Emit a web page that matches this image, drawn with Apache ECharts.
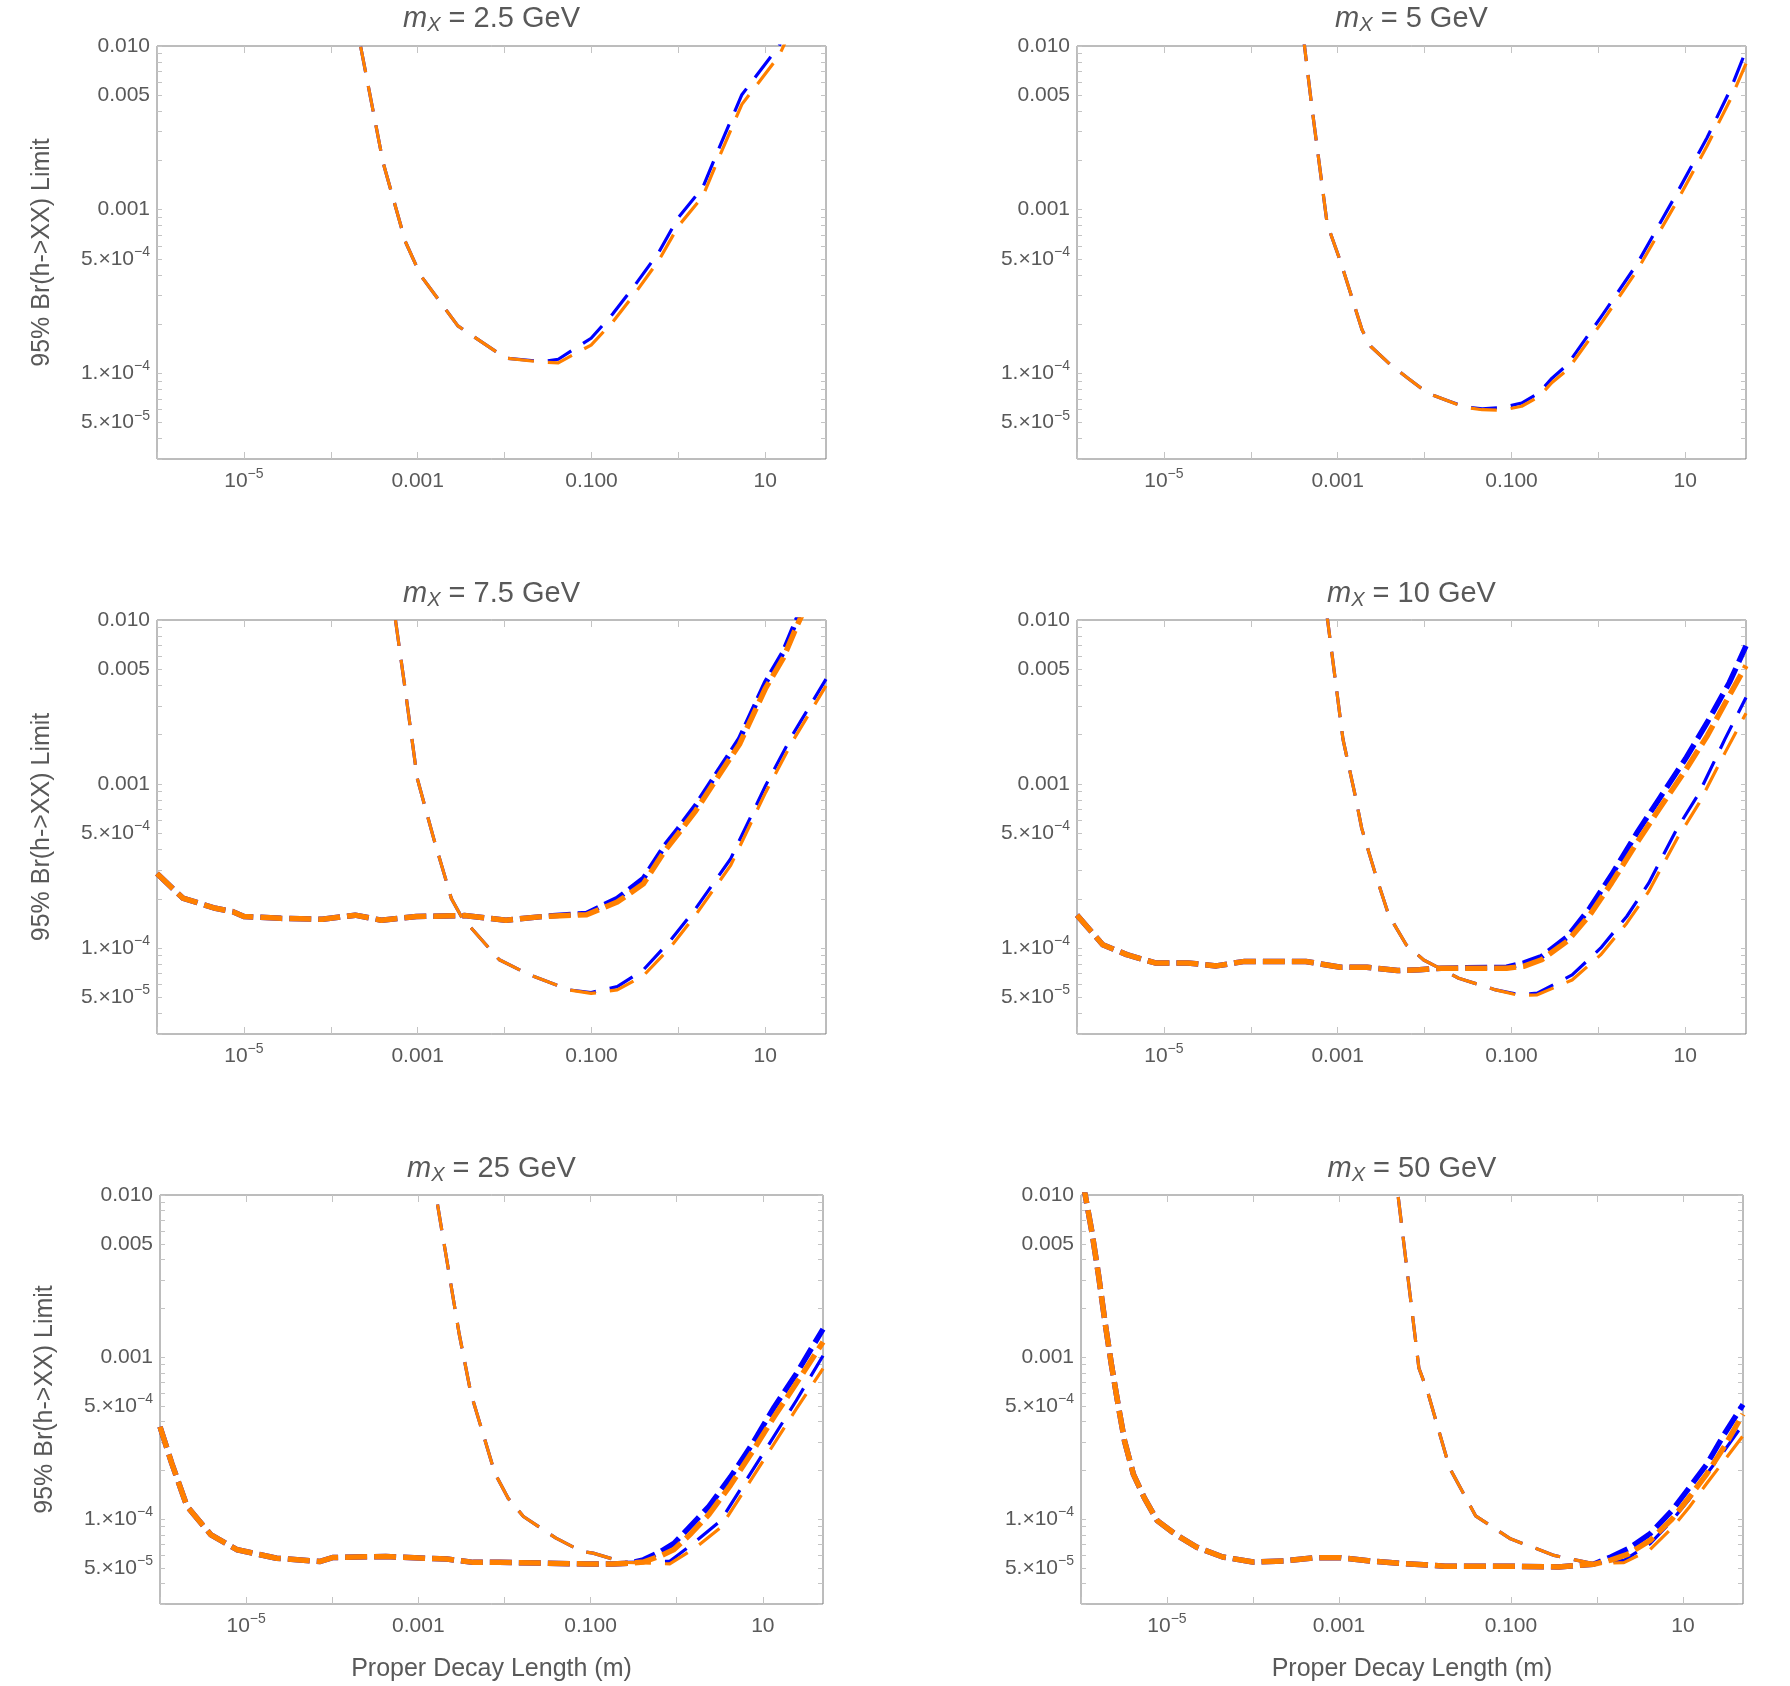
<!DOCTYPE html>
<html><head><meta charset="utf-8">
<script src="https://cdn.jsdelivr.net/npm/echarts@6/dist/echarts.min.js"></script>
<style>html,body{margin:0;padding:0;background:#fff}#c{width:1790px;height:1686px}</style>
</head><body><div id="c"></div>
<script>
// ---------- tick labels ----------
const xTickVals = [1e-5, 1e-3, 0.1, 10];
const xTickLabels = ['10^\u22125', '0.001', '0.100', '10'];
const yTickVals = [0.01, 0.005, 0.001, 5e-4, 1e-4, 5e-5];
const yTickLabels = ['0.010', '0.005', '0.001', '5.\u00d710^\u22124', '1.\u00d710^\u22124', '5.\u00d710^\u22125'];
const massLabels = ['2.5', '5', '7.5', '10', '25', '50'];

// ---------- panel 1 : mX = 2.5 GeV ----------
const p1ThinX      = [1.8e-4, 2.2e-4, 3.0e-4, 4.0e-4, 7.2e-4, 1.08e-3, 2.9e-3, 0.0103, 0.0277, 0.0415, 0.099, 0.177, 0.315, 0.595, 1.0, 1.9, 2.84, 5.38, 14.4, 20];
const p1ThinBlue   = [0.0172, 0.0100, 4.27e-3, 1.94e-3, 6.4e-4, 3.97e-4, 1.95e-4, 1.24e-4, 1.18e-4, 1.22e-4, 1.64e-4, 2.32e-4, 3.45e-4, 5.5e-4, 8.97e-4, 1.36e-3, 2.28e-3, 5.04e-3, 0.0100, 0.0145];
const p1ThinOrange = [0.0172, 0.0100, 4.27e-3, 1.94e-3, 6.4e-4, 3.97e-4, 1.95e-4, 1.24e-4, 1.17e-4, 1.16e-4, 1.49e-4, 2.07e-4, 3.07e-4, 4.9e-4, 7.95e-4, 1.2e-3, 2.0e-3, 4.4e-3, 8.7e-3, 0.0127];

// ---------- panel 2 : mX = 5 GeV ----------
const p2ThinX      = [3.5e-4, 4.15e-4, 5.06e-4, 7.57e-4, 1.1e-3, 1.91e-3, 2.41e-3, 4.05e-3, 6.44e-3, 0.0108, 0.0172, 0.029, 0.046, 0.0775, 0.131, 0.207, 0.293, 0.44, 1.11, 2.8, 7.93, 17.8, 33.7, 50];
const p2ThinBlue   = [0.0203, 0.0100, 4.18e-3, 8.18e-4, 4.67e-4, 1.84e-4, 1.46e-4, 1.13e-4, 9.35e-5, 7.58e-5, 6.9e-5, 6.24e-5, 6.07e-5, 6.18e-5, 6.59e-5, 7.6e-5, 9.35e-5, 1.13e-4, 2.27e-4, 4.68e-4, 1.25e-3, 2.75e-3, 5.53e-3, 9.4e-3];
const p2ThinOrange = [0.0203, 0.0100, 4.18e-3, 8.18e-4, 4.67e-4, 1.84e-4, 1.46e-4, 1.13e-4, 9.35e-5, 7.58e-5, 6.9e-5, 6.2e-5, 6.0e-5, 5.96e-5, 6.3e-5, 7.2e-5, 8.8e-5, 1.05e-4, 2.07e-4, 4.27e-4, 1.11e-3, 2.45e-3, 4.81e-3, 7.8e-3];

// ---------- panel 3 : mX = 7.5 GeV ----------
const p3ThinX      = [4.8e-4, 5.55e-4, 7.0e-4, 9.9e-4, 1.53e-3, 2.44e-3, 3.2e-3, 8.7e-3, 0.0196, 0.0554, 0.099, 0.198, 0.396, 0.794, 1.59, 4.0, 10.1, 20.3, 50];
const p3ThinBlue   = [0.0174, 0.0100, 4.16e-3, 1.08e-3, 4.65e-4, 2.01e-4, 1.55e-4, 8.5e-5, 6.87e-5, 5.57e-5, 5.37e-5, 5.83e-5, 7.38e-5, 1.10e-4, 1.75e-4, 3.51e-4, 9.8e-4, 1.97e-3, 4.36e-3];
const p3ThinOrange = [0.0174, 0.0100, 4.16e-3, 1.08e-3, 4.65e-4, 2.01e-4, 1.55e-4, 8.5e-5, 6.87e-5, 5.57e-5, 5.30e-5, 5.57e-5, 6.8e-5, 1.0e-4, 1.6e-4, 3.2e-4, 8.9e-4, 1.8e-3, 3.97e-3];
const p3ThickX      = [1e-6, 1.98e-6, 4.71e-6, 7.48e-6, 1e-5, 2.67e-5, 8.0e-5, 1.91e-4, 3.83e-4, 9.66e-4, 3.45e-3, 0.01035, 0.0277, 0.088, 0.198, 0.396, 0.706, 1.0, 1.59, 2.83, 5.05, 10.1, 16.1, 22.7, 30];
const p3ThickBlue   = [2.85e-4, 2.02e-4, 1.75e-4, 1.67e-4, 1.56e-4, 1.52e-4, 1.50e-4, 1.59e-4, 1.48e-4, 1.56e-4, 1.58e-4, 1.48e-4, 1.56e-4, 1.63e-4, 2.01e-4, 2.66e-4, 4.24e-4, 5.35e-4, 7.41e-4, 1.18e-3, 1.88e-3, 4.16e-3, 6.34e-3, 9.86e-3, 0.0135];
const p3ThickOrange = [2.85e-4, 2.02e-4, 1.75e-4, 1.67e-4, 1.56e-4, 1.52e-4, 1.50e-4, 1.59e-4, 1.48e-4, 1.56e-4, 1.58e-4, 1.48e-4, 1.56e-4, 1.60e-4, 1.91e-4, 2.47e-4, 3.95e-4, 5.0e-4, 6.9e-4, 1.1e-3, 1.75e-3, 3.85e-3, 5.85e-3, 9.0e-3, 0.0124];

// ---------- panel 4 : mX = 10 GeV ----------
const p4ThinX      = [6.5e-4, 7.65e-4, 1.15e-3, 1.62e-3, 1.89e-3, 2.74e-3, 3.87e-3, 6.15e-3, 9.77e-3, 0.0247, 0.0659, 0.124, 0.198, 0.499, 1.06, 2.12, 3.78, 8.04, 14.3, 28.6, 50];
const p4ThinBlue   = [0.0195, 0.0100, 1.88e-3, 8.13e-4, 5.37e-4, 2.79e-4, 1.59e-4, 1.05e-4, 8.47e-5, 6.56e-5, 5.57e-5, 5.22e-5, 5.32e-5, 6.87e-5, 1.0e-4, 1.56e-4, 2.48e-4, 5.35e-4, 8.73e-4, 1.88e-3, 3.37e-3];
const p4ThinOrange = [0.0195, 0.0100, 1.88e-3, 8.13e-4, 5.37e-4, 2.79e-4, 1.59e-4, 1.05e-4, 8.47e-5, 6.56e-5, 5.57e-5, 5.15e-5, 5.2e-5, 6.4e-5, 9.1e-5, 1.42e-4, 2.21e-4, 4.65e-4, 7.6e-4, 1.55e-3, 2.7e-3];
const p4ThickX      = [1e-6, 1.98e-6, 3.74e-6, 7.94e-6, 1.89e-5, 4.01e-5, 8.5e-5, 4.3e-4, 1.08e-3, 2.17e-3, 4.88e-3, 8.7e-3, 0.0155, 0.088, 0.14, 0.222, 0.445, 0.794, 1.42, 2.83, 5.05, 10.1, 18.0, 32.2, 50];
const p4ThickBlue   = [1.59e-4, 1.05e-4, 9.14e-5, 8.13e-5, 8.13e-5, 7.8e-5, 8.31e-5, 8.3e-5, 7.66e-5, 7.66e-5, 7.31e-5, 7.4e-5, 7.55e-5, 7.66e-5, 8.13e-5, 8.9e-5, 1.18e-4, 1.75e-4, 2.8e-4, 5.13e-4, 8.18e-4, 1.43e-3, 2.39e-3, 4.16e-3, 6.95e-3];
const p4ThickOrange = [1.59e-4, 1.05e-4, 9.14e-5, 8.13e-5, 8.13e-5, 7.8e-5, 8.31e-5, 8.3e-5, 7.66e-5, 7.66e-5, 7.31e-5, 7.4e-5, 7.55e-5, 7.55e-5, 7.77e-5, 8.5e-5, 1.11e-4, 1.59e-4, 2.5e-4, 4.46e-4, 7.1e-4, 1.22e-3, 1.98e-3, 3.47e-3, 5.27e-3];

// ---------- panel 5 : mX = 25 GeV ----------
const p5ThinX      = [1.4e-3, 1.6e-3, 2.98e-3, 4.08e-3, 7.75e-3, 0.011, 0.0166, 0.0397, 0.080, 0.107, 0.181, 0.258, 0.83, 1.61, 3.24, 10.4, 24.5, 50];
const p5ThinBlue   = [0.0153, 0.0100, 1.39e-3, 5.96e-4, 1.92e-4, 1.35e-4, 1.04e-4, 7.64e-5, 6.32e-5, 6.18e-5, 5.68e-5, 5.42e-5, 5.5e-5, 7.2e-5, 9.8e-5, 2.61e-4, 5.4e-4, 1.02e-3];
const p5ThinOrange = [0.0153, 0.0100, 1.39e-3, 5.96e-4, 1.92e-4, 1.35e-4, 1.04e-4, 7.64e-5, 6.32e-5, 6.18e-5, 5.68e-5, 5.42e-5, 5.3e-5, 6.6e-5, 8.9e-5, 2.35e-4, 4.8e-4, 8.5e-4];
const p5ThickX      = [1e-6, 1.37e-6, 2.06e-6, 3.92e-6, 7.9e-6, 2.26e-5, 7.26e-5, 1.03e-4, 4.18e-4, 2.15e-3, 4.33e-3, 8.7e-3, 0.028, 0.090, 0.181, 0.289, 0.411, 0.655, 0.93, 1.48, 2.37, 4.24, 7.6, 13.6, 24.5, 50];
const p5ThickBlue   = [3.72e-4, 2.21e-4, 1.2e-4, 8.0e-5, 6.48e-5, 5.75e-5, 5.49e-5, 5.81e-5, 5.89e-5, 5.68e-5, 5.42e-5, 5.42e-5, 5.37e-5, 5.29e-5, 5.3e-5, 5.37e-5, 5.62e-5, 6.32e-5, 7.1e-5, 9.2e-5, 1.2e-4, 1.83e-4, 2.93e-4, 4.93e-4, 7.9e-4, 1.49e-3];
const p5ThickOrange = [3.72e-4, 2.21e-4, 1.2e-4, 8.0e-5, 6.48e-5, 5.75e-5, 5.49e-5, 5.81e-5, 5.89e-5, 5.68e-5, 5.42e-5, 5.42e-5, 5.37e-5, 5.29e-5, 5.3e-5, 5.37e-5, 5.45e-5, 5.95e-5, 6.5e-5, 8.2e-5, 1.07e-4, 1.63e-4, 2.62e-4, 4.3e-4, 6.9e-4, 1.24e-3];

// ---------- panel 6 : mX = 50 GeV ----------
const p6ThinX      = [4.3e-3, 4.86e-3, 8.5e-3, 0.0107, 0.0193, 0.0388, 0.0988, 0.318, 0.908, 2.06, 4.15, 7.44, 11.9, 18.9, 30.2, 50];
const p6ThinBlue   = [0.0171, 0.0100, 8.57e-4, 6.15e-4, 2.08e-4, 1.05e-4, 7.57e-5, 5.98e-5, 5.32e-5, 5.57e-5, 7.06e-5, 9.8e-5, 1.33e-4, 1.9e-4, 2.64e-4, 3.85e-4];
const p6ThinOrange = [0.0171, 0.0100, 8.57e-4, 6.15e-4, 2.08e-4, 1.05e-4, 7.57e-5, 5.98e-5, 5.32e-5, 5.4e-5, 6.5e-5, 8.8e-5, 1.19e-4, 1.66e-4, 2.3e-4, 3.27e-4];
const p6ThickX      = [1.05e-6, 1.12e-6, 1.34e-6, 1.6e-6, 1.9e-6, 2.26e-6, 2.7e-6, 3.21e-6, 4.06e-6, 5.43e-6, 7.7e-6, 1.23e-5, 2.21e-5, 4.45e-5, 1.0e-4, 2.28e-4, 5.16e-4, 1.04e-3, 2.35e-3, 6.0e-3, 0.0171, 0.088, 0.357, 0.908, 1.45, 2.31, 4.15, 7.44, 11.9, 18.9, 30.2, 50];
const p6ThickBlue   = [0.0121, 0.0100, 5.9e-3, 3.2e-3, 1.65e-3, 8.97e-4, 5.1e-4, 3.04e-4, 1.9e-4, 1.36e-4, 9.8e-5, 8.13e-5, 6.73e-5, 5.85e-5, 5.45e-5, 5.52e-5, 5.79e-5, 5.79e-5, 5.52e-5, 5.32e-5, 5.13e-5, 5.13e-5, 5.08e-5, 5.27e-5, 5.85e-5, 6.58e-5, 8.13e-5, 1.13e-4, 1.57e-4, 2.18e-4, 3.34e-4, 5.1e-4];
const p6ThickOrange = [0.0121, 0.0100, 5.9e-3, 3.2e-3, 1.65e-3, 8.97e-4, 5.1e-4, 3.04e-4, 1.9e-4, 1.36e-4, 9.8e-5, 8.13e-5, 6.73e-5, 5.85e-5, 5.45e-5, 5.52e-5, 5.79e-5, 5.79e-5, 5.52e-5, 5.32e-5, 5.13e-5, 5.13e-5, 5.08e-5, 5.27e-5, 5.6e-5, 6.1e-5, 7.4e-5, 1.0e-4, 1.37e-4, 1.9e-4, 2.8e-4, 4.45e-4];

// ---------- assemble ----------
const panels = [
  {mass: massLabels[0], curves: [[p1ThinX, p1ThinBlue, p1ThinOrange, false]]},
  {mass: massLabels[1], curves: [[p2ThinX, p2ThinBlue, p2ThinOrange, false]]},
  {mass: massLabels[2], curves: [[p3ThinX, p3ThinBlue, p3ThinOrange, false], [p3ThickX, p3ThickBlue, p3ThickOrange, true]]},
  {mass: massLabels[3], curves: [[p4ThinX, p4ThinBlue, p4ThinOrange, false], [p4ThickX, p4ThickBlue, p4ThickOrange, true]]},
  {mass: massLabels[4], curves: [[p5ThinX, p5ThinBlue, p5ThinOrange, false], [p5ThickX, p5ThickBlue, p5ThickOrange, true]]},
  {mass: massLabels[5], curves: [[p6ThinX, p6ThinBlue, p6ThinOrange, false], [p6ThickX, p6ThickBlue, p6ThickOrange, true]]}
];

const layout = [
  {left: 157, top: 46, width: 669, height: 413, titleTop: 3},
  {left: 1077, top: 46, width: 669, height: 413, titleTop: 3},
  {left: 157, top: 620, width: 669, height: 414, titleTop: 578},
  {left: 1077, top: 620, width: 669, height: 414, titleTop: 578},
  {left: 160, top: 1195, width: 663, height: 409, titleTop: 1153},
  {left: 1081, top: 1195, width: 662, height: 409, titleTop: 1153}
];

const FONT = '"Liberation Sans", Arial, Helvetica, sans-serif';
const TXT = '#595959';
const BLUE = '#0000ff';
const ORANGE = '#ff8000';
const XMIN = 1e-6, XMAX = 50, YMIN = 3e-5, YMAX = 0.01;

const xTickAll = [];
for (let e = -6; e <= 1; e++) xTickAll.push(Math.pow(10, e));
const yTickAll = [];
for (let e = -5; e <= -2; e++) for (let k = 1; k <= 9; k++) {
  const v = k * Math.pow(10, e);
  if (v >= YMIN * 0.999 && v <= YMAX * 1.001) yTickAll.push(v);
}

function toRich(s) {
  const p = s.split('^');
  return p.length > 1 ? '{b|' + p[0] + '}{s|' + p[1] + '}' : '{b|' + s + '}';
}
function makeFmt(vals, labels) {
  return function (v) {
    const k = vals.findIndex(t => Math.abs(Math.log10(t) - Math.log10(v)) < 1e-6);
    return k < 0 ? '' : toRich(labels[k]);
  };
}
const tickRich = {
  b: {fontSize: 21, lineHeight: 28, color: TXT, fontFamily: FONT},
  s: {fontSize: 14, lineHeight: 14, verticalAlign: 'top', color: TXT, fontFamily: FONT}
};
const tickLine = {color: '#c4c4c4', width: 1};

const grid = [], xAxis = [], yAxis = [], series = [], title = [];
panels.forEach((p, i) => {
  const L = layout[i];
  grid.push({left: L.left, top: L.top, width: L.width, height: L.height, show: true,
    borderColor: '#7a7a7a', borderWidth: 1, backgroundColor: 'transparent', containLabel: false});
  const bottomRow = i >= 4, leftCol = i % 2 === 0;
  xAxis.push({type: 'log', logBase: 10, gridIndex: i, min: XMIN, max: XMAX, position: 'bottom',
    axisLine: {show: false}, splitLine: {show: false},
    axisTick: {show: true, inside: true, length: 7, lineStyle: tickLine, customValues: xTickAll},
    axisLabel: {show: true, customValues: xTickVals, margin: 8, formatter: makeFmt(xTickVals, xTickLabels), rich: tickRich},
    name: bottomRow ? 'Proper Decay Length (m)' : '', nameLocation: 'middle', nameGap: 53,
    nameTextStyle: {fontSize: 25, color: TXT, fontFamily: FONT}
  });
  xAxis.push({type: 'log', logBase: 10, gridIndex: i, min: XMIN, max: XMAX, position: 'top',
    axisLine: {show: false}, splitLine: {show: false},
    axisTick: {show: true, inside: true, length: 7, lineStyle: tickLine, customValues: xTickAll},
    axisLabel: {show: false}
  });
  yAxis.push({type: 'log', logBase: 10, gridIndex: i, min: YMIN, max: YMAX, position: 'left',
    axisLine: {show: false}, splitLine: {show: false},
    axisTick: {show: true, inside: true, length: 5, lineStyle: tickLine, customValues: yTickAll},
    axisLabel: {show: true, customValues: yTickVals, margin: 7, formatter: makeFmt(yTickVals, yTickLabels), rich: tickRich},
    name: leftCol ? '95% Br(h->XX) Limit' : '', nameLocation: 'middle', nameGap: 102, nameRotate: 90,
    nameTextStyle: {fontSize: 25, color: TXT, fontFamily: FONT}
  });
  yAxis.push({type: 'log', logBase: 10, gridIndex: i, min: YMIN, max: YMAX, position: 'right',
    axisLine: {show: false}, splitLine: {show: false},
    axisTick: {show: true, inside: true, length: 5, lineStyle: tickLine, customValues: yTickAll},
    axisLabel: {show: false}
  });
  title.push({
    text: '{m|m}{x|X}{n| = ' + p.mass + ' GeV}',
    left: L.left + L.width / 2, top: L.titleTop, textAlign: 'center', padding: 0,
    textStyle: {fontWeight: 'normal', fontFamily: FONT, color: TXT, rich: {
      m: {fontSize: 29, fontStyle: 'italic', fontWeight: 'normal', color: TXT, fontFamily: FONT, lineHeight: 32},
      x: {fontSize: 20, fontStyle: 'italic', fontWeight: 'normal', color: TXT, fontFamily: FONT, lineHeight: 12, verticalAlign: 'bottom'},
      n: {fontSize: 29, fontWeight: 'normal', color: TXT, fontFamily: FONT, lineHeight: 32}
    }}
  });
  const mk = (xs, ys, color, thick) => ({
    type: 'line', xAxisIndex: 2 * i, yAxisIndex: 2 * i, clip: true, silent: true,
    symbol: 'none', showSymbol: false, animation: false,
    data: xs.map((x, k) => [x, ys[k]]),
    lineStyle: {color: color, width: thick ? 5.5 : 3.2, type: thick ? [22, 7] : [26, 14], cap: 'butt', join: 'round'}
  });
  p.curves.forEach(c => series.push(mk(c[0], c[1], BLUE, c[3])));
  p.curves.forEach(c => series.push(mk(c[0], c[2], ORANGE, c[3])));
});

const chart = echarts.init(document.getElementById('c'), null, {renderer: 'canvas'});
chart.setOption({
  animation: false,
  backgroundColor: '#ffffff',
  title: title, grid: grid, xAxis: xAxis, yAxis: yAxis, series: series,
  tooltip: {show: false}
});
</script></body></html>
